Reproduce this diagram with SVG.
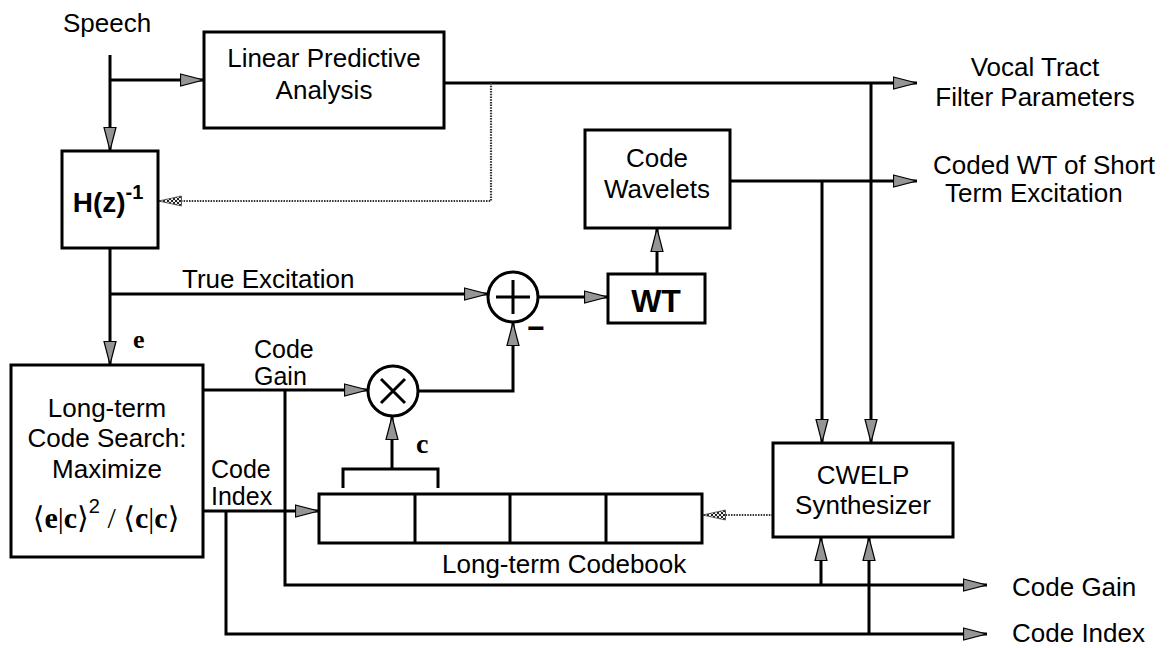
<svg xmlns="http://www.w3.org/2000/svg" width="1174" height="648" viewBox="0 0 1174 648">
<defs>
<style>
.box{fill:#fff;stroke:#000;stroke-width:3}
.ln{fill:none;stroke:#000;stroke-width:3}
.ar{fill:none;stroke:#000;stroke-width:3;marker-end:url(#ah)}
.dt{fill:none;stroke:#333;stroke-width:2.2;stroke-dasharray:1.5 1.2;marker-end:url(#xa)}
.t{font-family:"Liberation Sans",Arial,sans-serif;font-size:26px;fill:#000}
.k{font-size:25px}
.m{text-anchor:middle}
.s{font-family:"Liberation Serif","DejaVu Serif",serif;font-weight:bold;fill:#000}
</style>
<pattern id="xh" width="4" height="4" patternUnits="userSpaceOnUse">
<rect width="4" height="4" fill="#eee"/>
<path d="M0,0 L4,4 M4,0 L0,4" stroke="#222" stroke-width="1"/>
</pattern>
<marker id="ah" viewBox="0 0 24 14" refX="24" refY="7" markerWidth="24" markerHeight="14" markerUnits="userSpaceOnUse" orient="auto">
<path d="M0.5,1 L23.5,7 L0.5,13 Z" fill="#959595" stroke="#000" stroke-width="1.2"/>
</marker>
<marker id="xa" viewBox="0 0 24 12" refX="24" refY="6" markerWidth="24" markerHeight="12" markerUnits="userSpaceOnUse" orient="auto">
<path d="M0.5,1 L23.5,6 L0.5,11 Z" fill="url(#xh)" stroke="#444" stroke-width="0.8"/>
</marker>
</defs>
<rect width="1174" height="648" fill="#fff"/>

<g id="connectors">
<path class="ar" d="M110,55 V151"/>
<path class="ar" d="M110,80 H204"/>
<path class="ar" d="M444,83 H917"/>
<path class="dt" d="M491,83 V201 H158"/>
<path class="ar" d="M871,83 V443"/>
<path class="ar" d="M730,181 H917"/>
<path class="ar" d="M822,181 V443"/>
<path class="ar" d="M657,274 V228"/>
<path class="ar" d="M110,248 V365"/>
<path class="ar" d="M110,294 H488"/>
<path class="ar" d="M538,297 H608"/>
<path class="ar" d="M203,390 H368"/>
<path class="ar" d="M418,391 H513 V322"/>
<path class="ar" d="M285,390 V585 H987"/>
<path class="ar" d="M821,585 V537"/>
<path class="ar" d="M203,511 H319"/>
<path class="ar" d="M226,511 V634 H987"/>
<path class="ar" d="M869,634 V537"/>
<path class="ar" d="M392,469 V416"/>
<path class="ln" d="M343,488 V469 H438 V488"/>
<path class="dt" d="M773,515 H702"/>
</g>

<g id="speech-label">
<text class="t" x="63" y="32">Speech</text>
</g>

<g id="lpa">
<rect class="box" x="204" y="32" width="240" height="96"/>
<text class="t m" x="324" y="67">Linear Predictive</text>
<text class="t m" x="324" y="99">Analysis</text>
</g>

<g id="hinv">
<rect class="box" x="62" y="151" width="96" height="97"/>
<text class="t m" x="108" y="212" style="font-weight:bold;font-size:28px">H(z)<tspan dy="-13" style="font-size:20px">-1</tspan></text>
</g>

<g id="code-wavelets">
<rect class="box" x="585" y="130" width="145" height="98"/>
<text class="t m" x="657" y="167">Code</text>
<text class="t m" x="657" y="198">Wavelets</text>
</g>

<g id="wt">
<rect class="box" x="608" y="274" width="97" height="49"/>
<text class="t m" x="656" y="312" style="font-weight:bold;font-size:32px">WT</text>
</g>

<g id="sum">
<circle cx="513" cy="297" r="25" class="box"/>
<path class="ln" d="M496,297 H530 M513,280 V314"/>
<text class="t m" x="536" y="338" style="font-weight:bold;font-size:30px">−</text>
</g>

<g id="mult">
<circle cx="393" cy="391" r="25" class="box"/>
<path class="ln" d="M381,379 L405,403 M405,379 L381,403"/>
</g>

<g id="long-term-search">
<rect class="box" x="11" y="365" width="192" height="192"/>
<text class="t m" x="107" y="417">Long-term</text>
<text class="t m" x="107" y="447">Code Search:</text>
<text class="t m" x="107" y="478">Maximize</text>
<text class="m" x="106" y="528" style="font-family:'Liberation Serif','DejaVu Serif',serif;font-size:30px">⟨<tspan font-weight="bold">e</tspan>|<tspan font-weight="bold">c</tspan>⟩<tspan dy="-15" style="font-family:'Liberation Sans',sans-serif;font-size:20px">2</tspan><tspan dy="15"> / </tspan>⟨<tspan font-weight="bold">c</tspan>|<tspan font-weight="bold">c</tspan>⟩</text>
</g>

<g id="codebook">
<rect class="box" x="319" y="494" width="383" height="49"/>
<path class="ln" d="M415,494 V543 M510,494 V543 M606,494 V543"/>
<text class="t" x="442" y="573">Long-term Codebook</text>
</g>

<g id="cwelp">
<rect class="box" x="773" y="443" width="180" height="94"/>
<text class="t m" x="863" y="484">CWELP</text>
<text class="t m" x="863" y="514">Synthesizer</text>
</g>

<g id="labels">
<text class="t m" x="1035" y="76">Vocal Tract</text>
<text class="t m" x="1035" y="106">Filter Parameters</text>
<text class="t" x="933" y="174">Coded WT of Short</text>
<text class="t" x="945" y="202">Term Excitation</text>
<text class="t" x="182" y="288">True Excitation</text>
<text class="s" x="133" y="348" style="font-size:26px">e</text>
<text class="t k" x="254" y="358">Code</text>
<text class="t k" x="254" y="385">Gain</text>
<text class="t k" x="211" y="478">Code</text>
<text class="t k" x="211" y="505">Index</text>
<text class="s" x="416" y="453" style="font-size:28px">c</text>
<text class="t" x="1012" y="596">Code Gain</text>
<text class="t" x="1012" y="642">Code Index</text>
</g>
</svg>
